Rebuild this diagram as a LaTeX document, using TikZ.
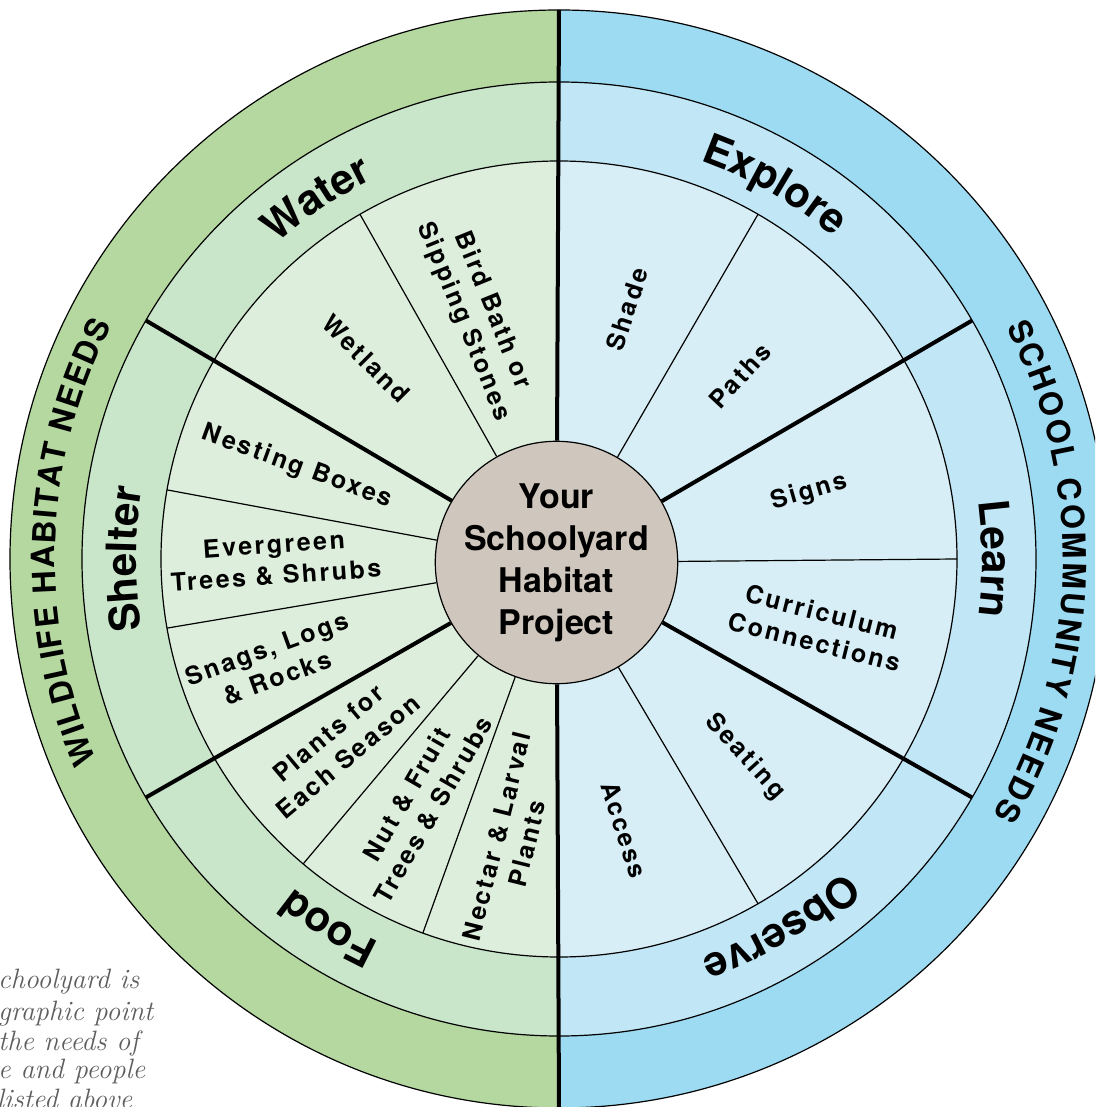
\documentclass[tikz,border=0pt]{standalone}
\usepackage{fontspec}
\usetikzlibrary{decorations.text}
\newfontfamily\whheros{TeX Gyre Heros}
\newfontfamily\whherossp[LetterSpace=10]{TeX Gyre Heros}
\newcommand\whringfont{\whheros\bfseries\fontsize{42}{42}\selectfont}
\newcommand\whouterfont{\whheros\bfseries\fontsize{32}{32}\selectfont}
\definecolor{gA}{HTML}{B4D89F}
\definecolor{gB}{HTML}{C9E5CA}
\definecolor{gC}{HTML}{DDEFDC}
\definecolor{bA}{HTML}{9DDBF3}
\definecolor{bB}{HTML}{C1E7F6}
\definecolor{bC}{HTML}{D7EEF6}
\definecolor{hubc}{HTML}{CFC7BD}
\definecolor{capc}{HTML}{5E5E5E}
\begin{document}
\begin{tikzpicture}[x=1pt,y=1pt,
  thinline/.style={line width=1.2pt, draw=black},
  thickline/.style={line width=4pt, draw=black},
  lab/.style={font=\whherossp\bfseries\fontsize{25}{31}\selectfont, align=center, inner sep=0pt},
  hubnode/.style={circle, draw=black, line width=1.2pt, fill=hubc, minimum size=238pt, inner sep=0pt, align=center, font=\whheros\bfseries\fontsize{34}{42}\selectfont},
  caption/.style={anchor=base west, inner sep=0pt, text=capc, font=\itshape\fontsize{28}{30}\selectfont},
  ringlabel/.style={decorate, decoration={text along path, text={|\whringfont|#1}, text align=center}},
  outerlabel/.style={decorate, decoration={text effects along path, text={#1}, text effects/.cd, text along path, fit text to path, characters={font=\whouterfont, text=black}}}
]
\useasboundingbox (-559,-548) rectangle (536,559);
\clip (-559,-548) rectangle (536,559);

% green half
\fill[gA] (0,0) -- (90:549) arc[start angle=90, end angle=270, radius=549] -- cycle;
\fill[gB] (0,0) -- (90:477) arc[start angle=90, end angle=270, radius=477] -- cycle;
\fill[gC] (0,0) -- (90:398) arc[start angle=90, end angle=270, radius=398] -- cycle;
% blue half
\fill[bA] (0,0) -- (-90:549) arc[start angle=-90, end angle=90, radius=549] -- cycle;
\fill[bB] (0,0) -- (-90:477) arc[start angle=-90, end angle=90, radius=477] -- cycle;
\fill[bC] (0,0) -- (-90:398) arc[start angle=-90, end angle=90, radius=398] -- cycle;

% ring outlines
\draw[thinline] (0,0) circle[radius=549];
\draw[thinline] (0,0) circle[radius=477];
\draw[thinline] (0,0) circle[radius=398];

% hub
\node[hubnode] (hub) at (-2.5,-3.5) {Your\\Schoolyard\\Habitat\\Project};

% thin sub-dividers
\foreach \a in {120,170,190,230,250,60,0,300}
  \draw[thinline] (\a:398) -- (hub);
% thick dividers
\foreach \a in {150,210,30,330}
  \draw[thickline] (\a:477) -- (hub);
\draw[thickline] (90:549) -- (hub);
\draw[thickline] (270:549) -- (hub);

% inner labels
\node[lab, rotate=-68] (birdbath) at (-81,243) {Bird Bath or\\Sipping Stones};
\node[lab, rotate=-45] (wetland) at (-193,200) {Wetland};
\node[lab, rotate=-20] (nesting) at (-262,92) {Nesting Boxes};
\node[lab, rotate=4] (evergreen) at (-284,-1) {Evergreen\\Trees \& Shrubs};
\node[lab, rotate=20] (snags) at (-287,-104) {Snags, Logs\\\& Rocks};
\node[lab, rotate=40] (plants) at (-221,-186) {Plants for\\Each Season};
\node[lab, rotate=60] (nut) at (-139,-243) {Nut \& Fruit\\Trees \& Shrubs};
\node[lab, rotate=76] (nectar) at (-47,-281) {Nectar \& Larval\\Plants};
\node[lab, rotate=72] (shade) at (68,250) {Shade};
\node[lab, rotate=47] (paths) at (181,183) {Paths};
\node[lab, rotate=16] (signs) at (250,67) {Signs};
\node[lab, rotate=-14] (curric) at (259,-68) {Curriculum\\Connections};
\node[lab, rotate=-48] (seating) at (186,-198) {Seating};
\node[lab, rotate=-72] (access) at (65,-271) {Access};

% ring labels
\path[ringlabel=Water] (164:423) arc[start angle=164, end angle=84, radius=423];
\path[ringlabel=Explore] (100:423) arc[start angle=100, end angle=20, radius=423];
\path[ringlabel=Shelter] (220:423) arc[start angle=220, end angle=140, radius=423];
\path[ringlabel=Learn] (40:423) arc[start angle=40, end angle=-40, radius=423];
\path[ringlabel=Food] (278:423) arc[start angle=278, end angle=198, radius=423];
\path[ringlabel=Observe] (-19:423) arc[start angle=-19, end angle=-99, radius=423];

% outer labels
\path[outerlabel={WILDLIFE HABITAT NEEDS}] (203.5:504) arc[start angle=203.5, end angle=152.4, radius=504];
\path[outerlabel={SCHOOL COMMUNITY NEEDS}] (27.4:504) arc[start angle=27.4, end angle=-30.5, radius=504];

% cropped caption
\node[caption] (cap1) at (-561,-429) {choolyard is};
\node[caption] (cap2) at (-561,-461) {graphic point};
\node[caption] (cap3) at (-561,-491) {the needs of};
\node[caption] (cap4) at (-561,-519) {e and people};
\node[caption] (cap5) at (-562,-549) {listed above};
\end{tikzpicture}
\end{document}
